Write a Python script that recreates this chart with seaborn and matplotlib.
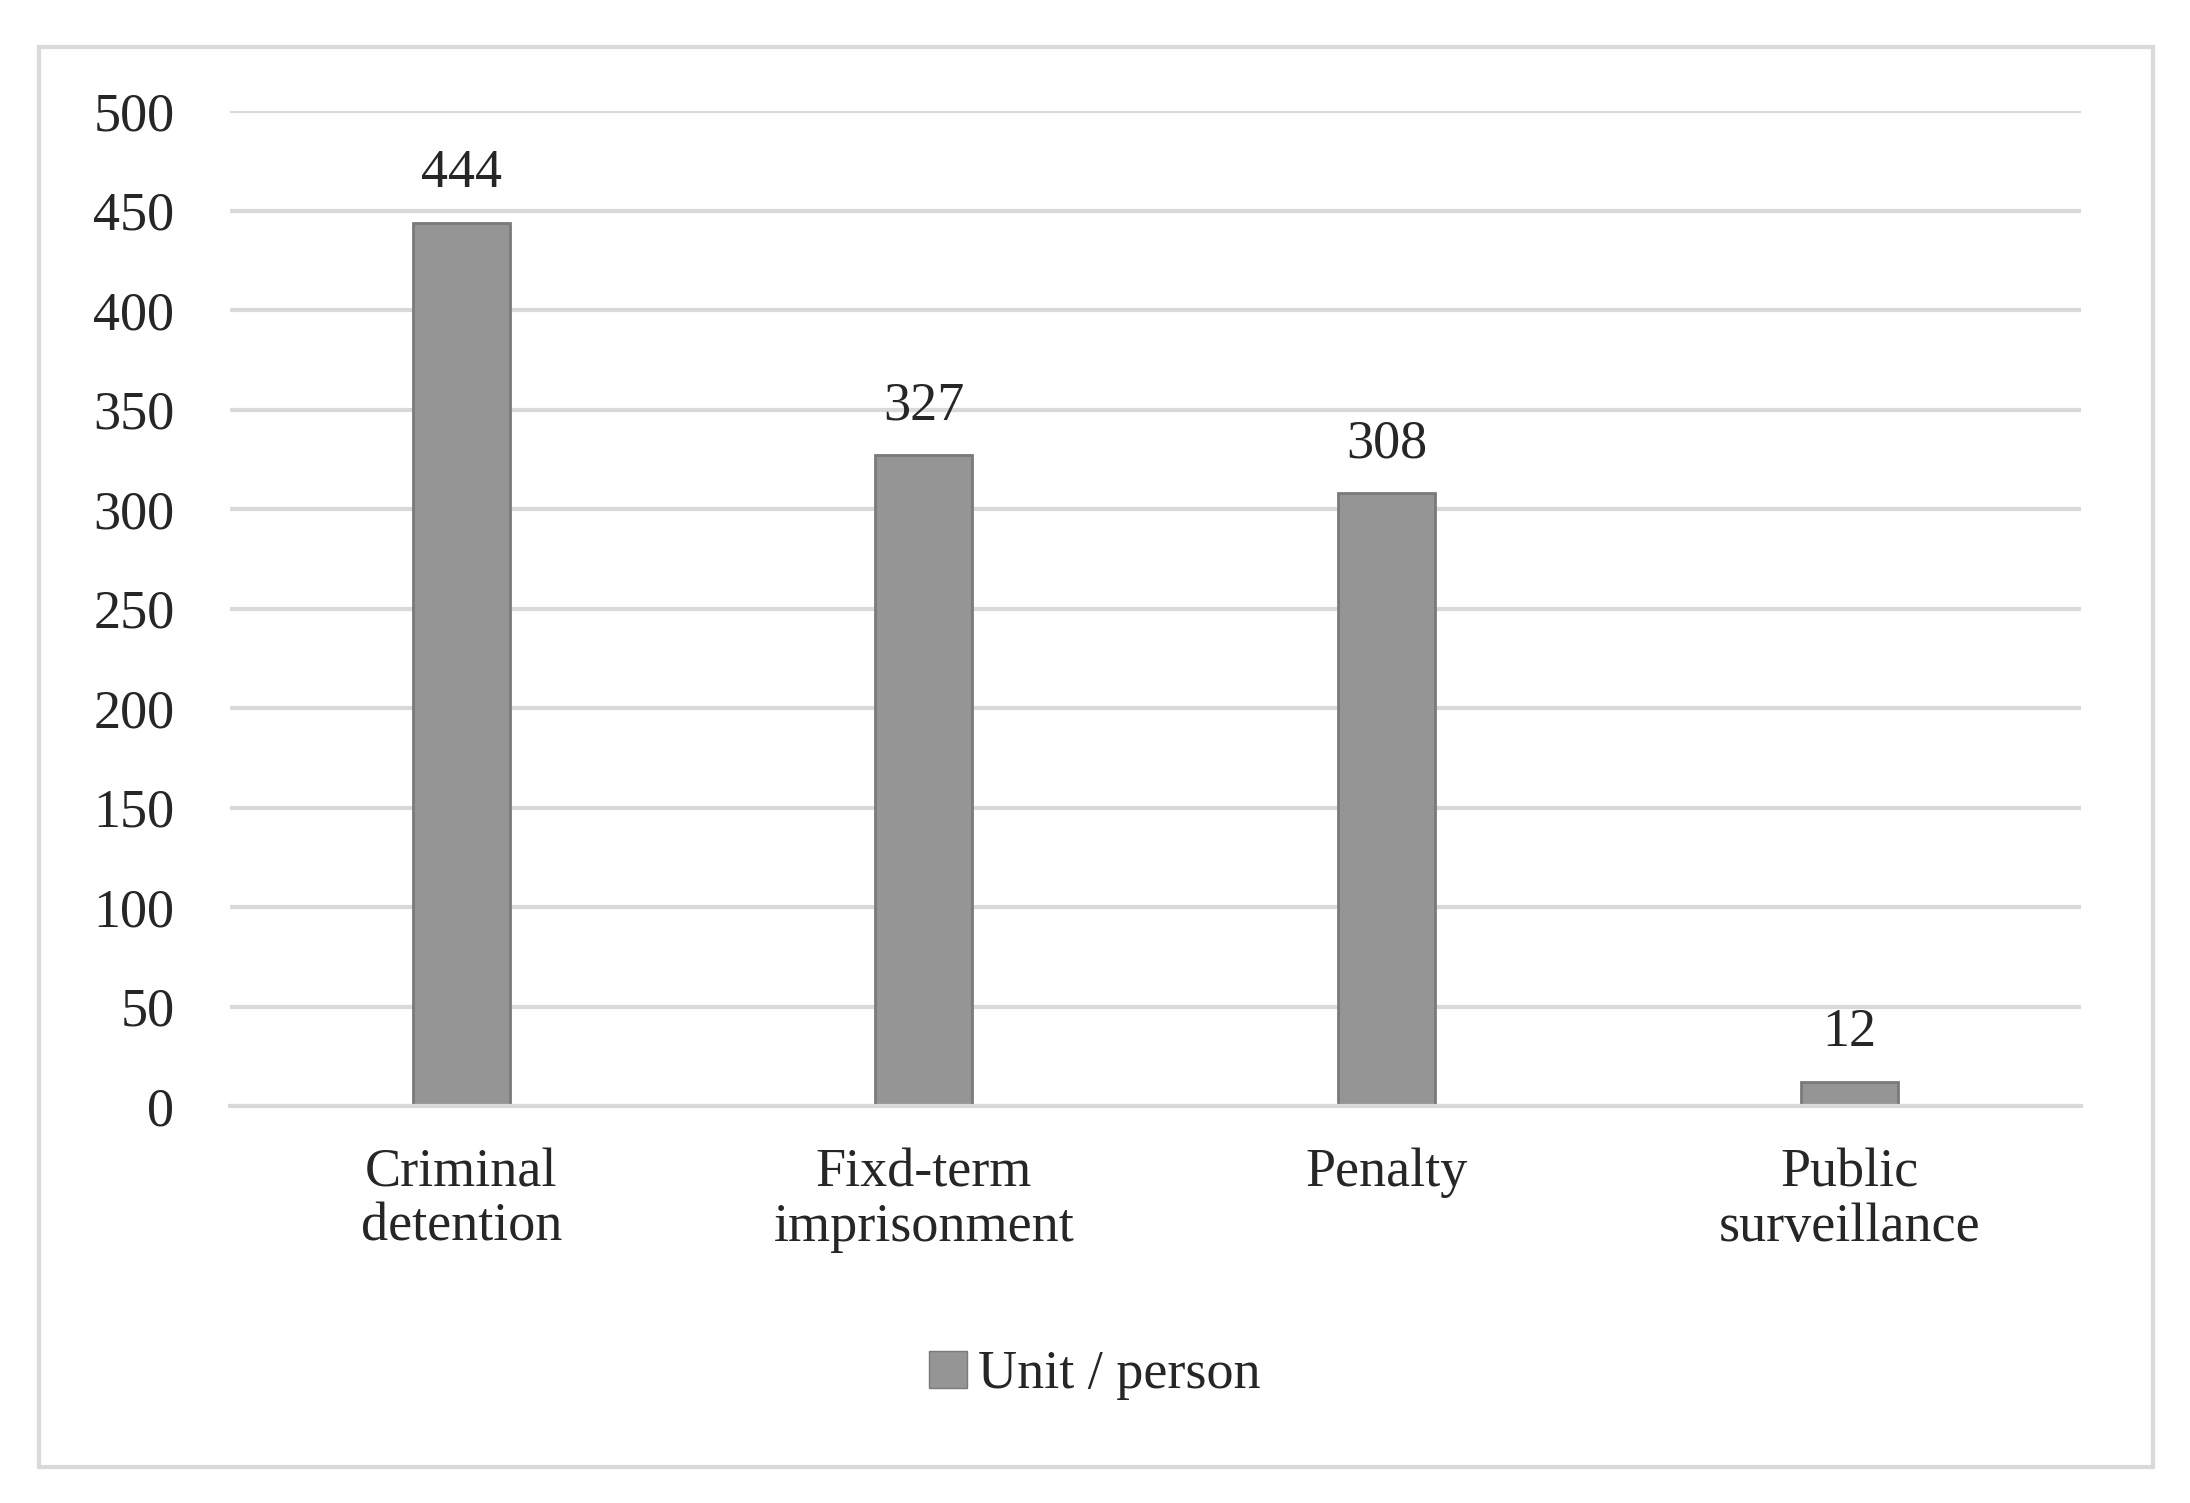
import matplotlib
matplotlib.use("Agg")
import matplotlib.pyplot as plt
import seaborn as sns
import pandas as pd
from matplotlib.patches import Rectangle, Patch

categories = ["Criminal\ndetention", "Fixd-term\nimprisonment", "Penalty", "Public\nsurveillance"]
values = [444, 327, 308, 12]
series_name = "Unit / person"

sns.set_style("white")
plt.rcParams["font.family"] = ["Liberation Serif", "DejaVu Serif"]

df = pd.DataFrame({"category": categories, "value": values})

fig = plt.figure(figsize=(21.9, 15.03), dpi=100)
ax = fig.add_axes([0.105, 0.264, 0.845, 0.662])

# outer light border like the Excel chart frame
fig.patches.append(Rectangle((0.018, 0.024), 0.965, 0.945, transform=fig.transFigure,
                             fill=False, edgecolor="#d9d9d9", linewidth=3))

sns.barplot(data=df, x="category", y="value", ax=ax, color="#959595",
            edgecolor="#7a7a7a", linewidth=2, width=0.21, saturation=1)

for i, v in enumerate(values):
    ax.text(i, v + 12, str(v), ha="center", va="bottom", fontsize=39)

ax.set_ylim(0, 500)
ax.set_yticks(range(0, 501, 50))
ax.yaxis.grid(True, color="#d9d9d9", linewidth=3)
ax.set_axisbelow(True)
ax.set_xlim(-0.5, 3.5)
for s in ["top", "right", "left"]:
    ax.spines[s].set_visible(False)
ax.spines["bottom"].set_color("#d9d9d9")
ax.spines["bottom"].set_linewidth(3)
ax.tick_params(axis="y", length=0, labelsize=39, pad=40)
ax.tick_params(axis="x", length=0, labelsize=39, pad=30)
for lbl in ax.get_xticklabels():
    lbl.set_linespacing(1.1)
ax.set_xlabel("")
ax.set_ylabel("")

fig.legend(handles=[Patch(facecolor="#959595", edgecolor="#7a7a7a")], labels=[series_name],
           loc="center", bbox_to_anchor=(0.5, 0.085), frameon=False, fontsize=39,
           handlelength=0.7, handleheight=0.7, handletextpad=0.2)

fig.savefig("out.png", dpi=100)
